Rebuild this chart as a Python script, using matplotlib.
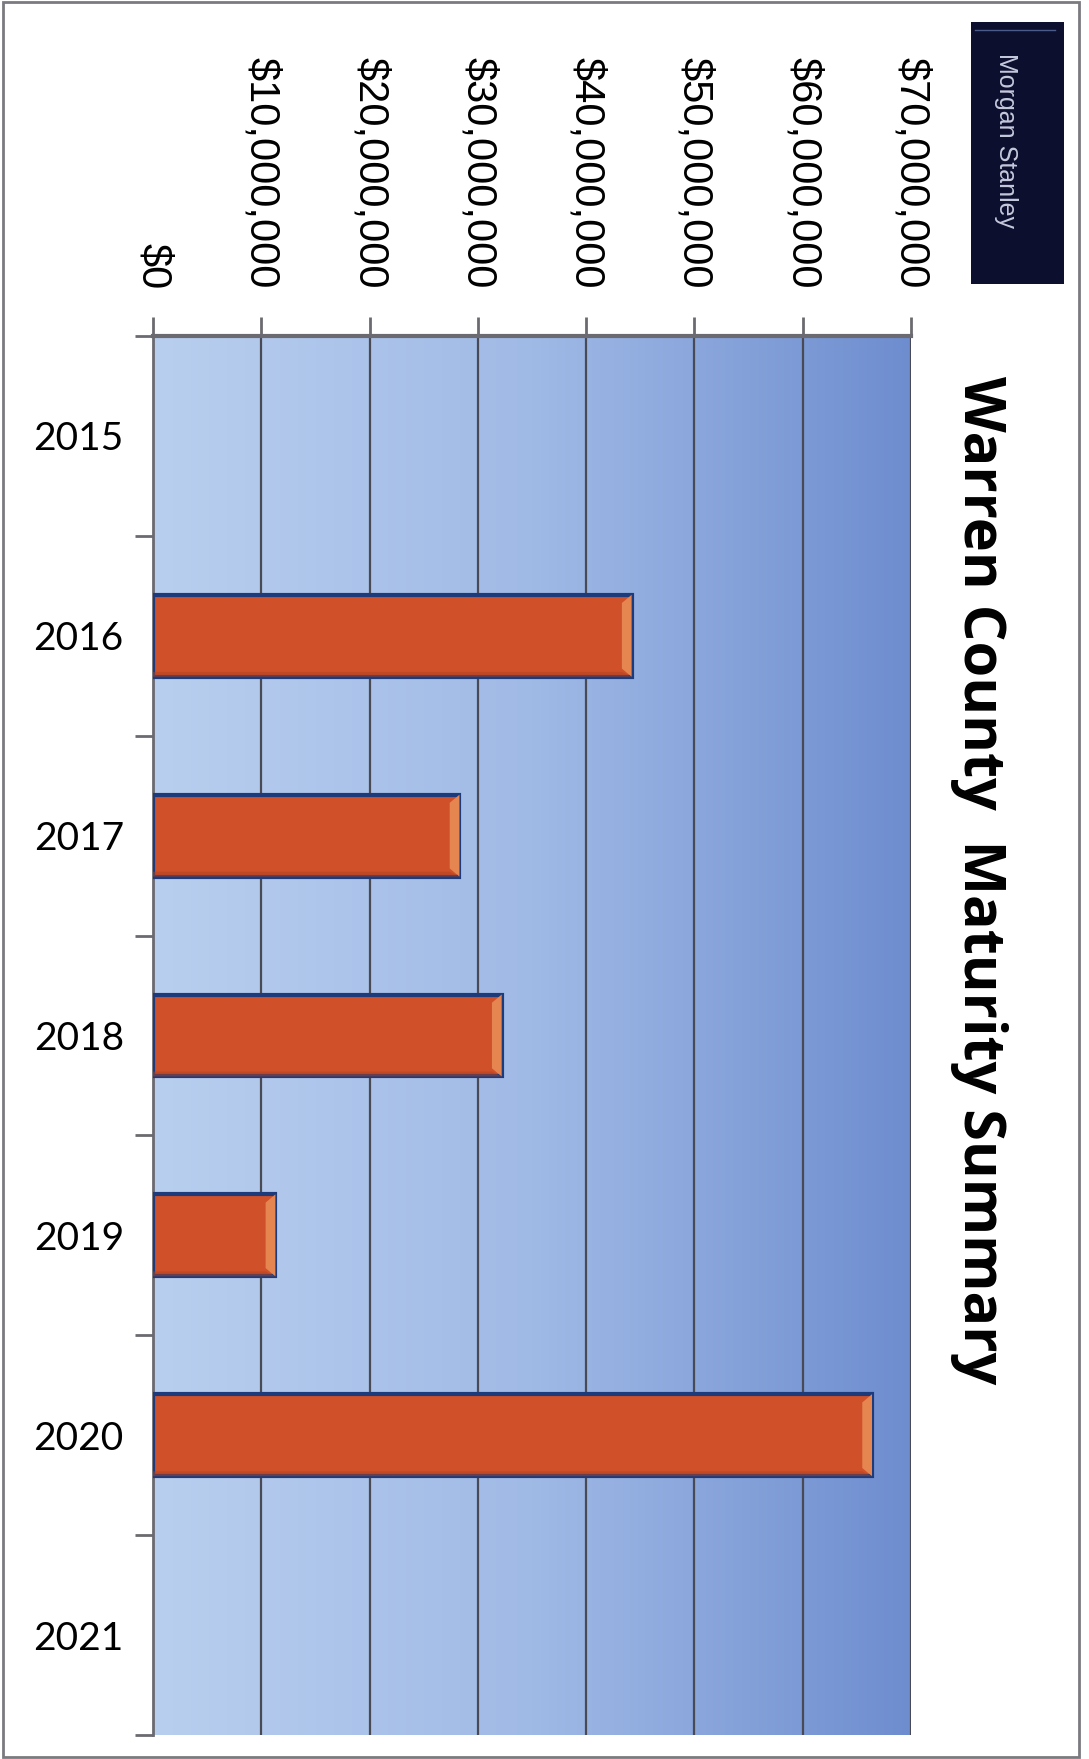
import numpy as np
import matplotlib.pyplot as plt
from matplotlib.patches import Rectangle, Polygon
from matplotlib.colors import LinearSegmentedColormap
from matplotlib.ticker import FuncFormatter, MultipleLocator

years = ["2015", "2016", "2017", "2018", "2019", "2020", "2021"]
maturities = [0, 44200000, 28300000, 32200000, 11300000, 66400000, 0]
value_ticks = [0, 10000000, 20000000, 30000000, 40000000, 50000000, 60000000, 70000000]

title = "Warren County  Maturity Summary"
brand = "Morgan Stanley"

W, H = 1089, 1759
fig = plt.figure(figsize=(W / 100, H / 100), dpi=100)
fig.patch.set_facecolor("white")

# outer frame
fig.add_artist(Rectangle((3 / W, 2 / H), 1076 / W, 1755 / H, transform=fig.transFigure,
                         fill=False, edgecolor="#7a7a80", linewidth=2))

ax = fig.add_axes([153 / W, 24 / H, 758 / W, 1399 / H])

# blue gradient panel
grad = np.linspace(0, 1, 256).reshape(1, -1)
cmap = LinearSegmentedColormap.from_list("panel", ["#b9cfef", "#a0bae6", "#6e8dcf"])
ax.imshow(grad, cmap=cmap, aspect="auto", extent=[0, 1, 0, 1],
          transform=ax.transAxes, zorder=0)

y = np.arange(len(years))
bar_h = 0.41

ax.set_xlim(0, 70000000)
ax.set_ylim(len(years) - 0.5, -0.5)

for v in value_ticks[1:]:
    ax.axvline(v, color="#4a4a55", linewidth=1.6, zorder=1)

bars = ax.barh(y, maturities, height=bar_h, color="#d0502a",
               edgecolor="#1d3a7a", linewidth=3, zorder=3)
for b, v in zip(bars, maturities):
    if v == 0:
        b.set_linewidth(0)

# bevelled end on each bar
bev = 900000
for yi, v in zip(y, maturities):
    if v <= 0:
        continue
    top, bot = yi - bar_h / 2, yi + bar_h / 2
    d = bar_h * 0.1
    ax.add_patch(Polygon([(v - bev, top + d), (v, top), (v, bot), (v - bev, bot - d)],
                         closed=True, facecolor="#e58650", edgecolor="none", zorder=4))
    ax.add_patch(Polygon([(0, bot - d * 0.6), (v - bev, bot - d * 0.6), (v, bot), (0, bot)],
                         closed=True, facecolor="#b3411f", edgecolor="none", zorder=4, alpha=0.5))

# value axis on top, labels turned sideways
ax.xaxis.set_major_locator(MultipleLocator(10000000))
ax.xaxis.set_major_formatter(FuncFormatter(lambda v, p: "${:,.0f}".format(v)))
ax.xaxis.tick_top()
ax.tick_params(axis="x", which="major", direction="out", length=14, width=2,
               color="#6a6a70", pad=20, labelrotation=-90, labelsize=30)
for lab in ax.get_xticklabels():
    lab.set_fontfamily("Liberation Sans")

# category axis on the left
ax.set_yticks(y)
ax.set_yticklabels(years, fontfamily="Lato", fontsize=28)
ax.set_yticks(np.arange(len(years) + 1) - 0.5, minor=True)
ax.tick_params(axis="y", which="major", length=0, pad=21)
ax.tick_params(axis="y", which="minor", direction="out", length=13, width=2,
               color="#6a6a70")

for s in ["right", "bottom"]:
    ax.spines[s].set_visible(False)
ax.spines["top"].set_color("#6a6a70")
ax.spines["top"].set_linewidth(3)
ax.spines["left"].set_color("#6a6a70")
ax.spines["left"].set_linewidth(2)

fig.text(979 / W, 1 - 376 / H, title, rotation=-90, ha="center", va="top",
         fontsize=41.5, fontweight="bold", fontfamily="Open Sans", color="#000000")

# brand box
fig.add_artist(Rectangle((971 / W, 1 - 284 / H), 93 / W, 262 / H,
                         transform=fig.transFigure, facecolor="#0c0f2e", edgecolor="none"))
fig.add_artist(plt.Line2D([975 / W, 1055 / W], [1 - 30 / H, 1 - 30 / H],
                          transform=fig.transFigure, color="#4a5a8a", linewidth=1))
fig.text(1006 / W, 1 - 53 / H, brand, rotation=-90, ha="center", va="top",
         fontsize=18, fontfamily="Liberation Sans", color="#c6c9dc")

fig.savefig("out.png", dpi=100)
